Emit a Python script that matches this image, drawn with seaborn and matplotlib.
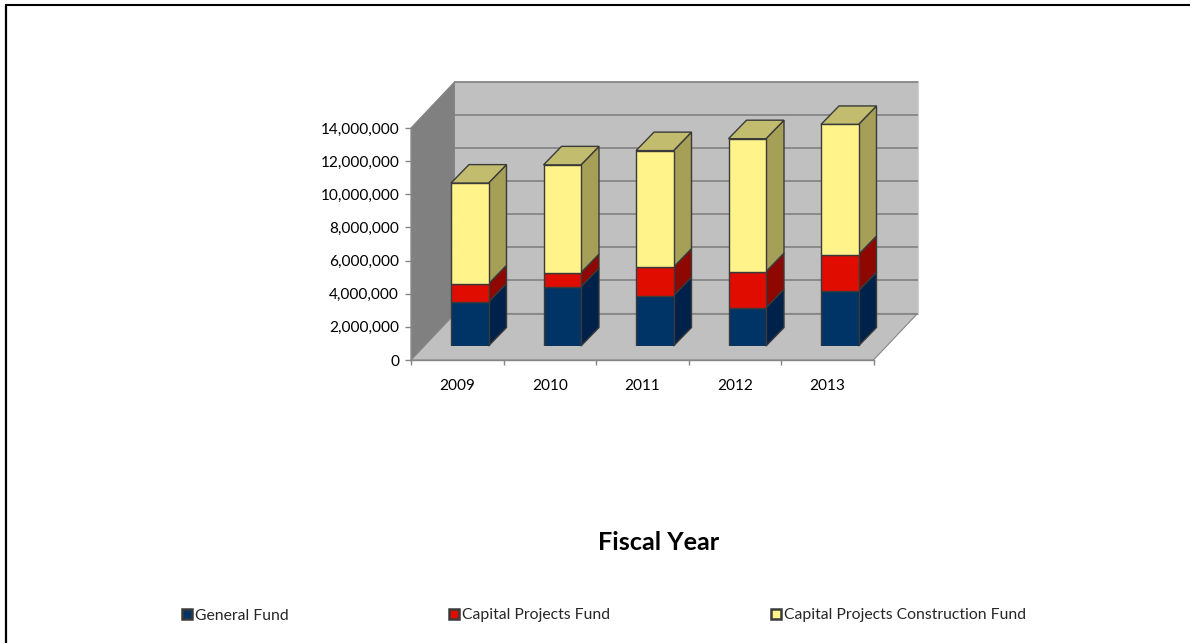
import matplotlib
matplotlib.use("Agg")
import matplotlib.pyplot as plt
from matplotlib.patches import Polygon, Patch
from matplotlib.ticker import FuncFormatter
import seaborn as sns

years = ["2009", "2010", "2011", "2012", "2013"]
general_fund = [2660000, 3580000, 3040000, 2310000, 3340000]
capital_projects = [1090000, 850000, 1720000, 2180000, 2180000]
construction_fund = [6080000, 6500000, 7030000, 8020000, 7850000]

series = [
    ("General Fund", general_fund, "#003366", "#00214A", "#003366"),
    ("Capital Projects Fund", capital_projects, "#E00C00", "#8E0700", "#E00C00"),
    ("Capital Projects Construction Fund", construction_fund, "#FFF38A", "#A59F58", "#C2BC6E"),
]

W, H = 1190, 643
Y_MAX = 14000000
FONT = "Lato"

sns.set_theme(style="white")
plt.rcParams["font.family"] = [FONT, "DejaVu Sans"]

fig = plt.figure(figsize=(W / 100, H / 100), dpi=100, facecolor="white")


def px_rect(left, top, right, bottom):
    return [left / W, 1 - bottom / H, (right - left) / W, (bottom - top) / H]


# Main axes: the front edge of the floor and the left edge of the side wall
ax = fig.add_axes(px_rect(411, 128, 873.5, 360))
ax.set_xlim(-0.5, 4.5)
ax.set_ylim(0, Y_MAX)
ax.patch.set_visible(False)

px_x = (4.5 + 0.5) / 462.5
px_y = Y_MAX / 232


def shift(x, y, dx_px, dy_px):
    return x + dx_px * px_x, y + dy_px * px_y


# Room depth in pixels
DX, DY = 44, 46.5
x0, x1 = -0.5, 4.5
grid_color = "#868686"

left_wall = [(x0, 0), shift(x0, 0, DX, DY), shift(x0, Y_MAX, DX, DY), (x0, Y_MAX)]
back_wall = [shift(x0, 0, DX, DY), shift(x1, 0, DX, DY), shift(x1, Y_MAX, DX, DY), shift(x0, Y_MAX, DX, DY)]
floor = [(x0, 0), (x1, 0), shift(x1, 0, DX, DY), shift(x0, 0, DX, DY)]
ax.add_patch(Polygon(left_wall, closed=True, fc="#808080", ec="#8A8A8A", lw=0.8, clip_on=False, zorder=1))
ax.add_patch(Polygon(back_wall, closed=True, fc="#C0C0C0", ec="none", clip_on=False, zorder=1))
ax.add_patch(Polygon(floor, closed=True, fc="#C0C0C0", ec=grid_color, lw=0.8, clip_on=False, zorder=1))

for level in range(0, Y_MAX + 1, 2000000):
    a = shift(x0, level, DX, DY)
    b = shift(x1, level, DX, DY)
    ax.plot([a[0], b[0]], [a[1], b[1]], color=grid_color, lw=1.3, clip_on=False, zorder=2)
    ax.plot([x0, a[0]], [level, a[1]], color="#848484", lw=0.4, clip_on=False, zorder=2)
a = shift(x1, 0, DX, DY)
b = shift(x1, Y_MAX, DX, DY)
ax.plot([a[0], b[0]], [a[1], b[1]], color="#D0D0D0", lw=0.8, clip_on=False, zorder=2)

# Axis lines, ticks and labels
sns.despine(ax=ax, top=True, right=True)
for side in ("left", "bottom"):
    ax.spines[side].set_color("#868686")
    ax.spines[side].set_linewidth(1.0)
    ax.spines[side].set_visible(True)
ax.set_yticks(range(0, Y_MAX + 1, 2000000))
ax.yaxis.set_major_formatter(FuncFormatter(lambda v, _: f"{int(v):,}"))
ax.set_xticks([i - 0.5 for i in range(len(years) + 1)])
ax.set_xticklabels([])
ax.set_xticks(range(len(years)), labels=years, minor=True)
ax.tick_params(axis="y", which="major", left=True, length=4, width=1, color="#868686",
               labelsize=11.1, labelcolor="black", pad=4.5)
ax.tick_params(axis="x", which="major", bottom=True, length=3.6, width=1, color="#868686")
ax.tick_params(axis="x", which="minor", bottom=False, length=0, labelsize=11.1, labelcolor="black", pad=13.5)

# Bars stand part-way into the room, on their own axes sharing the value scale
BAR_DX, BAR_DY = 12.5, 14
bar_ax = fig.add_axes(px_rect(411 + BAR_DX, 128 - BAR_DY, 873.5 + BAR_DX, 360 - BAR_DY))
bar_ax.patch.set_visible(False)

BAR_W = 37.5 / 92.5
SIDE_DX, SIDE_DY = 18, 18.5
edge = "#3A3A3A"
base = [0] * len(years)
for name, values, front, side, top in series:
    sns.barplot(x=years, y=values, bottom=base, color=front, width=BAR_W, saturation=1,
                edgecolor=edge, linewidth=1.0, errorbar=None, ax=bar_ax, zorder=5)
    for i, (b0, v) in enumerate(zip(base, values)):
        xr = i + BAR_W / 2
        xl = i - BAR_W / 2
        y_top = b0 + v
        side_poly = [(xr, b0), shift(xr, b0, SIDE_DX, SIDE_DY), shift(xr, y_top, SIDE_DX, SIDE_DY), (xr, y_top)]
        bar_ax.add_patch(Polygon(side_poly, closed=True, fc=side, ec=edge, lw=1.0, clip_on=False, zorder=4))
        if name == series[-1][0]:
            top_poly = [(xl, y_top), (xr, y_top), shift(xr, y_top, SIDE_DX, SIDE_DY), shift(xl, y_top, SIDE_DX, SIDE_DY)]
            bar_ax.add_patch(Polygon(top_poly, closed=True, fc=top, ec=edge, lw=1.0, clip_on=False, zorder=4))
    base = [b0 + v for b0, v in zip(base, values)]
bar_ax.set_xlim(-0.5, 4.5)
bar_ax.set_ylim(0, Y_MAX)
bar_ax.axis("off")

fig.text(659 / W, 1 - 542.5 / H, "Fiscal Year", ha="center", va="center",
         fontsize=18.2, fontweight="bold", color="black")

# One legend entry per fund, each anchored at its own position
for (name, values, front, side, top), left in zip(series, (182, 449, 771)):
    leg = fig.legend(handles=[Patch(fc=front, ec="#3A3A3A", lw=1.8, label=name)], loc="center left",
                     bbox_to_anchor=(left / W, 1 - 615.5 / H), frameon=False, fontsize=11.3,
                     handlelength=0.62, handleheight=0.62, handletextpad=0.22, borderpad=0, borderaxespad=0)

# Frame along the top and left of the canvas
fig.add_artist(plt.Line2D([6 / W, 1], [1 - 5 / H, 1 - 5 / H], color="black", lw=1.5))
fig.add_artist(plt.Line2D([6 / W, 6 / W], [0, 1 - 5 / H], color="black", lw=1.6))

fig.savefig("out.png", dpi=100, facecolor="white")
